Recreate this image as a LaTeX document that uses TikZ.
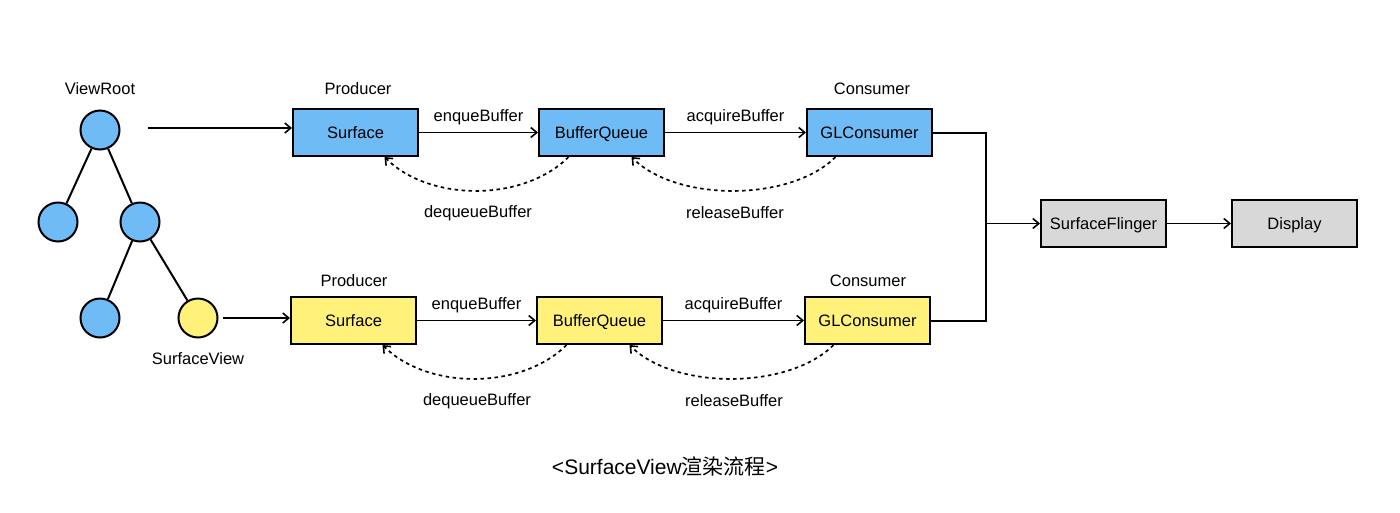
\documentclass[tikz,border=0pt]{standalone}
\usepackage{fontspec}
\setmainfont{Liberation Sans}
\newfontfamily\cjk{Noto Sans CJK SC}
\usetikzlibrary{arrows.meta}
\definecolor{cblue}{RGB}{110,187,246}
\definecolor{cyellow}{RGB}{255,241,122}
\definecolor{cgray}{RGB}{216,216,216}
\tikzset{
  every node/.style={font=\fontsize{16.5}{19}\selectfont},
  box/.style={draw=black, line width=2pt, minimum width=125pt, minimum height=47pt, inner sep=0pt, text height=11.8pt, text depth=0pt},
  bbox/.style={box, fill=cblue},
  ybox/.style={box, fill=cyellow},
  gbox/.style={box, fill=cgray},
  tnode/.style={circle, draw=black, line width=2pt, minimum size=39pt, inner sep=0pt},
  conn/.style={line width=1.8pt, -{Straight Barb[length=6pt,width=10pt,line width=1.6pt]}},
  plain/.style={line width=2pt},
  dconn/.style={line width=1.7pt, dash pattern=on 3.5pt off 3.5pt, -{Straight Barb[length=6pt,width=10pt,line width=1.6pt]}},
  lbl/.style={inner sep=0pt}
}
\begin{document}
\begin{tikzpicture}[x=1pt,y=-1pt]
\useasboundingbox (0,0) rectangle (1400,512);
% tree
\node[tnode, fill=cblue] (r) at (100,130) {};
\node[tnode, fill=cblue] (a) at (58,222) {};
\node[tnode, fill=cblue] (b) at (140,222) {};
\node[tnode, fill=cblue] (c) at (100,318) {};
\node[tnode, fill=cyellow] (sv) at (198,318) {};
\draw[plain] (r) -- (a);
\draw[plain] (r) -- (b);
\draw[plain] (b) -- (c);
\draw[plain] (b) -- (sv);
\node[lbl] (vrl) at (100,89) {ViewRoot};
\node[lbl] (svl) at (198,359) {SurfaceView};
% top row
\node[bbox] (s1) at (355.5,132.5) {Surface};
\node[bbox] (q1) at (601.5,132.5) {BufferQueue};
\node[bbox] (g1) at (869.5,132.5) {GLConsumer};
\node[lbl] (p1) at (358,89) {Producer};
\node[lbl] (c1) at (872,89) {Consumer};
\coordinate (t1) at (148,128);
\draw[conn] (t1) -- (s1.west |- t1);
\draw[conn] (s1) -- node[lbl, above=7pt] {enqueBuffer} (q1);
\draw[conn] (q1) -- node[lbl, above=7pt] {acquireBuffer} (g1);
\draw[dconn] ([xshift=-33pt]q1.south) .. controls +(-45,45) and +(45,45) .. ([xshift=29pt]s1.south);
\draw[dconn] ([xshift=-34pt]g1.south) .. controls +(-45,45) and +(45,45) .. ([xshift=30pt]q1.south);
\node[lbl] (d1) at (478,213) {dequeueBuffer};
\node[lbl] (r1) at (735,213) {releaseBuffer};
% bottom row
\node[ybox] (s2) at (353.5,320.5) {Surface};
\node[ybox] (q2) at (599.5,320.5) {BufferQueue};
\node[ybox] (g2) at (867.5,320.5) {GLConsumer};
\node[lbl] (p2) at (354,281) {Producer};
\node[lbl] (c2) at (868,281) {Consumer};
\draw[conn] (sv.east) ++(4,0) coordinate (t2) -- (s2.west |- t2);
\draw[conn] (s2) -- node[lbl, above=7pt] {enqueBuffer} (q2);
\draw[conn] (q2) -- node[lbl, above=7pt] {acquireBuffer} (g2);
\draw[dconn] ([xshift=-33pt]q2.south) .. controls +(-45,45) and +(45,45) .. ([xshift=29pt]s2.south);
\draw[dconn] ([xshift=-34pt]g2.south) .. controls +(-45,45) and +(45,45) .. ([xshift=30pt]q2.south);
\node[lbl] (d2) at (477,401) {dequeueBuffer};
\node[lbl] (r2) at (734,401) {releaseBuffer};
% merge
\node[gbox] (sf) at (1103.5,223.5) {SurfaceFlinger};
\node[gbox] (dp) at (1294.5,223.5) {Display};
\coordinate (m) at (986,223.5);
\draw[plain] (g1.east) -| (m);
\draw[plain] (g2.east) -| (m);
\draw[conn] (m) -- (sf);
\draw[conn] (sf) -- (dp);
% caption
\node[lbl, font=\fontsize{21}{25}\selectfont] (cap) at (665,466) {<SurfaceView{\cjk 渲染流程}>};
\end{tikzpicture}
\end{document}
